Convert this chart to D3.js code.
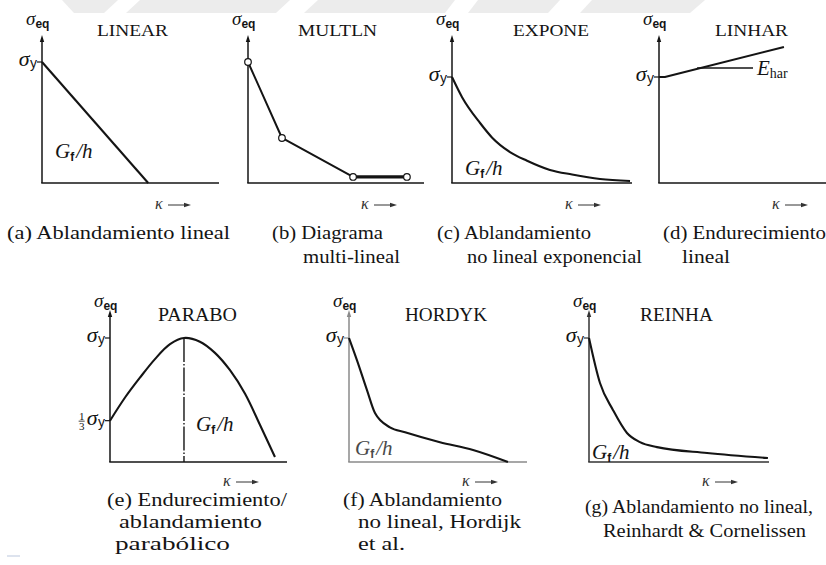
<!DOCTYPE html>
<html><head><meta charset="utf-8">
<script src="https://cdn.jsdelivr.net/npm/d3@7"></script>
<style>
body{margin:0;background:#fff}
svg{display:block}
.serif{font-family:"Liberation Serif","Times New Roman",Tinos,Times,serif}
.sans{font-family:"Liberation Sans",Arial,Helvetica,sans-serif}
.it{font-style:italic}
</style>
</head><body>
<svg id="fig" width="826" height="565"></svg>
<script>
// ---- data: κ is normalised to the axis length, σ to σy ----
const titles = ["LINEAR", "MULTLN", "EXPONE", "LINHAR", "PARABO", "HORDYK", "REINHA"];
const captions = [
  ["(a) Ablandamiento lineal"],
  ["(b) Diagrama", "multi-lineal"],
  ["(c) Ablandamiento", "no lineal exponencial"],
  ["(d) Endurecimiento", "lineal"],
  ["(e) Endurecimiento/", "ablandamiento", "parabólico"],
  ["(f) Ablandamiento", "no lineal, Hordijk", "et al."],
  ["(g) Ablandamiento no lineal,", "Reinhardt & Cornelissen"]
];
const linearCurve = [[0, 1], [0.6, 0]];
const multilinearPoints = [[0, 1], [0.193, 0.372], [0.597, 0.05], [0.903, 0.05]];
const exponentialCurve = [[0, 1], [0.056, 0.81], [0.156, 0.566], [0.222, 0.43], [0.322, 0.292],
  [0.417, 0.21], [0.544, 0.123], [0.667, 0.08], [0.822, 0.038], [0.989, 0.019]];
const hardeningLine = [[0, 1], [0.035, 1], [0.735, 1.283]];
const hardeningLeader = [[0.224, 1.085], [0.553, 1.085]];
const parabolicCurve = [[0, 0.333], [0.085, 0.52], [0.169, 0.68], [0.254, 0.83], [0.339, 0.95],
  [0.418, 1], [0.508, 0.97], [0.593, 0.88], [0.678, 0.74], [0.763, 0.55], [0.847, 0.30], [0.932, 0.04]];
const parabolicPeak = [0.418, 1];
const hordijkCurve = [[0, 1], [0.045, 0.82], [0.101, 0.58], [0.146, 0.395], [0.230, 0.28],
  [0.315, 0.24], [0.511, 0.16], [0.697, 0.097], [0.893, 0]];
const reinhardtCurve = [[0, 1], [0.061, 0.637], [0.133, 0.42], [0.211, 0.234], [0.283, 0.16],
  [0.378, 0.12], [0.656, 0.073], [0.994, 0.032]];

// ---- layout of the seven small diagrams ----
const layout = [
  {x0: 42,  base: 183, len: 177, sy: 121, top: 35,  eqDy: -10, sigmaY: true,  titleX: 97,  titleW: 71, titleY: 36, tFont: 17},
  {x0: 248, base: 183, len: 176, sy: 121, top: 35,  eqDy: -10, sigmaY: false, titleX: 298, titleW: 79, titleY: 36, tFont: 17},
  {x0: 452, base: 183, len: 180, sy: 106, top: 35,  eqDy: -10, sigmaY: true,  titleX: 513, titleW: 76, titleY: 36, tFont: 17},
  {x0: 659, base: 183, len: 170, sy: 106, top: 35,  eqDy: -10, sigmaY: true,  titleX: 715, titleW: 73, titleY: 36, tFont: 17},
  {x0: 110, base: 462, len: 177, sy: 124, top: 310, eqDy: -3,  sigmaY: true,  titleX: 158, titleW: 79, titleY: 321, tFont: 19},
  {x0: 349, base: 462, len: 178, sy: 124, top: 310, eqDy: -3,  sigmaY: true,  titleX: 405, titleW: 82, titleY: 321, tFont: 19, axis: "#8a8a8a"},
  {x0: 589, base: 462, len: 180, sy: 124, top: 310, eqDy: -3,  sigmaY: true,  titleX: 640, titleW: 73, titleY: 321, tFont: 19, axis: "#333"}
];
const captionLayout = [
  [[7, 239, 223]],
  [[272, 239, 111], [303, 263, 97]],
  [[437, 239, 154], [467, 263, 175]],
  [[663, 239, 163], [682, 263, 48]],
  [[107, 506, 180], [119, 528, 143], [115, 550, 115]],
  [[343, 506, 159], [358, 528, 163], [358, 550, 47]],
  [[585, 513, 228], [603, 537, 203]]
];
const gfLayout = [[55, 158], null, [465, 175], null, [196, 431], [355, 455], [592, 459]];

const INK = "#141414";

const svg = d3.select("#fig");
svg.append("rect").attr("width", 826).attr("height", 565).attr("fill", "#fff");

// faint background logo band along the top edge
const wm = svg.append("g").attr("fill", "#ececec");
[
  [[62, 0], [118, 0], [104, 13], [74, 13]],
  [[140, 0], [290, 0], [276, 13], [126, 13]],
  [[318, 0], [455, 0], [445, 13], [304, 13]],
  [[478, 0], [560, 0], [548, 13], [468, 13]],
  [[592, 0], [705, 0], [690, 13], [580, 13]]
].forEach(p => wm.append("path").attr("d", d3.line()(p) + "Z"));

const scales = layout.map(c => ({
  x: d3.scaleLinear().domain([0, 1]).range([c.x0, c.x0 + c.len]),
  y: d3.scaleLinear().domain([0, 1]).range([c.base, c.base - c.sy])
}));

function sigmaEq(g, c) {
  const t = g.append("text").attr("x", c.x0 - 16).attr("y", c.top + c.eqDy).attr("fill", INK);
  t.append("tspan").attr("class", "serif it").attr("font-size", 19).text("σ");
  t.append("tspan").attr("class", "sans").attr("font-weight", 700).attr("font-size", 12).attr("dy", 3).text("eq");
}

function sigmaYLabel(g, c, s, frac) {
  const yy = s.y(frac ? 1 / 3 : 1);
  g.append("line").attr("x1", c.x0 - 5).attr("x2", c.x0).attr("y1", yy).attr("y2", yy)
    .attr("stroke", c.axis || INK).attr("stroke-width", 1.2);
  const t = g.append("text").attr("x", c.x0 - 5).attr("y", yy + 4).attr("text-anchor", "end").attr("fill", INK);
  t.append("tspan").attr("class", "serif it").attr("font-size", 22).text("σ");
  t.append("tspan").attr("class", "sans").attr("font-size", 14).attr("dx", 0.5).attr("dy", 2).text("y");
  if (frac) {
    const fx = t.node().getBBox().x - 5;
    const fg = g.append("g").attr("class", "serif").attr("font-size", 11).attr("fill", INK);
    fg.append("text").attr("x", fx).attr("y", yy - 1).attr("text-anchor", "middle").text("1");
    fg.append("line").attr("x1", fx - 3).attr("x2", fx + 3).attr("y1", yy + 0.5).attr("y2", yy + 0.5)
      .attr("stroke", INK).attr("stroke-width", 0.8);
    fg.append("text").attr("x", fx).attr("y", yy + 9.5).attr("text-anchor", "middle").text("3");
  }
}

function gfLabel(g, pos, color) {
  const t = g.append("text").attr("x", pos[0]).attr("y", pos[1]).attr("fill", color || INK);
  t.append("tspan").attr("class", "serif it").attr("font-size", 21).text("G");
  t.append("tspan").attr("class", "sans").attr("font-weight", 700).attr("font-size", 12).attr("dy", 3).text("f");
  t.append("tspan").attr("class", "serif it").attr("font-size", 21).attr("dy", -3).attr("dx", 2).text("/h");
}

function kappaArrow(g, c) {
  const kx = c.x0 + 113, ky = c.base + (c.base < 300 ? 22 : 20);
  g.append("text").attr("x", kx).attr("y", ky + 4).attr("class", "serif it")
    .attr("font-size", 16).attr("fill", "#333").text("κ");
  g.append("line").attr("x1", kx + 13).attr("x2", kx + 31).attr("y1", ky).attr("y2", ky)
    .attr("stroke", "#333").attr("stroke-width", 1);
  g.append("path").attr("d", d3.line()([[kx + 36, ky], [kx + 29, ky - 2.2], [kx + 29, ky + 2.2]]) + "Z").attr("fill", "#333");
}

const curves = [linearCurve, multilinearPoints, exponentialCurve, hardeningLine, parabolicCurve, hordijkCurve, reinhardtCurve];
const curveTypes = [d3.curveLinear, d3.curveLinear, d3.curveMonotoneX, d3.curveLinear,
  d3.curveCatmullRom.alpha(0.5), d3.curveMonotoneX, d3.curveMonotoneX];

layout.forEach((c, i) => {
  const s = scales[i];
  const g = svg.append("g");
  const axisColor = c.axis || INK;

  // axes: vertical σeq axis with arrowhead, horizontal κ axis
  g.append("line").attr("x1", c.x0).attr("x2", c.x0).attr("y1", c.base).attr("y2", c.top + 5)
    .attr("stroke", axisColor).attr("stroke-width", 1.5);
  g.append("path").attr("d", d3.line()([[c.x0, c.top], [c.x0 - 2.2, c.top + 7], [c.x0 + 2.2, c.top + 7]]) + "Z")
    .attr("fill", axisColor);
  g.append("line").attr("x1", c.x0 - 0.75).attr("x2", c.x0 + c.len).attr("y1", c.base).attr("y2", c.base)
    .attr("stroke", axisColor).attr("stroke-width", 1.5);

  sigmaEq(g, c);
  if (c.sigmaY) sigmaYLabel(g, c, s, false);
  if (i === 4) sigmaYLabel(g, c, s, true);

  // title
  g.append("text").attr("x", c.titleX).attr("y", c.titleY).attr("class", "serif").attr("font-size", c.tFont)
    .attr("textLength", c.titleW).attr("lengthAdjust", "spacingAndGlyphs").attr("fill", INK).text(titles[i]);

  // the softening / hardening curve
  const line = d3.line().x(d => s.x(d[0])).y(d => s.y(d[1])).curve(curveTypes[i]);
  if (i === 1) {
    g.append("path").attr("d", line(multilinearPoints.slice(0, 3))).attr("fill", "none")
      .attr("stroke", INK).attr("stroke-width", 2).attr("stroke-linejoin", "round");
    g.append("path").attr("d", line(multilinearPoints.slice(2))).attr("fill", "none")
      .attr("stroke", INK).attr("stroke-width", 3.2);
    g.selectAll("circle.pt").data(multilinearPoints).join("circle")
      .attr("cx", d => s.x(d[0])).attr("cy", d => s.y(d[1])).attr("r", 3.3)
      .attr("fill", "#fff").attr("stroke", INK).attr("stroke-width", 1.2);
  } else {
    g.append("path").attr("d", line(curves[i])).attr("fill", "none")
      .attr("stroke", INK).attr("stroke-width", 2.1).attr("stroke-linejoin", "round");
  }

  if (i === 3) {
    g.append("path").attr("d", d3.line().x(d => s.x(d[0])).y(d => s.y(d[1]))(hardeningLeader))
      .attr("stroke", INK).attr("stroke-width", 1.3);
    const t = g.append("text").attr("x", s.x(hardeningLeader[1][0]) + 4).attr("y", s.y(hardeningLeader[1][1]) + 7).attr("fill", INK);
    t.append("tspan").attr("class", "serif it").attr("font-size", 21).text("E");
    t.append("tspan").attr("class", "serif").attr("font-size", 14).attr("dy", 3).text("har");
  }

  if (i === 4) {
    g.append("line").attr("x1", s.x(parabolicPeak[0])).attr("x2", s.x(parabolicPeak[0]))
      .attr("y1", s.y(parabolicPeak[1])).attr("y2", s.y(0))
      .attr("stroke", INK).attr("stroke-width", 1.4).attr("stroke-dasharray", "24,2,1.5,2");
  }

  if (gfLayout[i]) gfLabel(g, gfLayout[i], i === 5 ? "#4a4a4a" : INK);
  kappaArrow(g, c);

  // caption under the diagram
  captions[i].forEach((txt, k) => {
    const [cx, cy, cw] = captionLayout[i][k];
    g.append("text").attr("x", cx).attr("y", cy).attr("class", "serif")
      .attr("font-size", i < 4 ? 18 : 19.5).attr("textLength", cw).attr("lengthAdjust", "spacingAndGlyphs")
      .attr("fill", INK).text(txt);
  });
});

// small stray mark near the lower-left margin
svg.append("line").attr("x1", 7).attr("x2", 20).attr("y1", 556).attr("y2", 556)
  .attr("stroke", "#dde3ee").attr("stroke-width", 2);
</script>
</body></html>
